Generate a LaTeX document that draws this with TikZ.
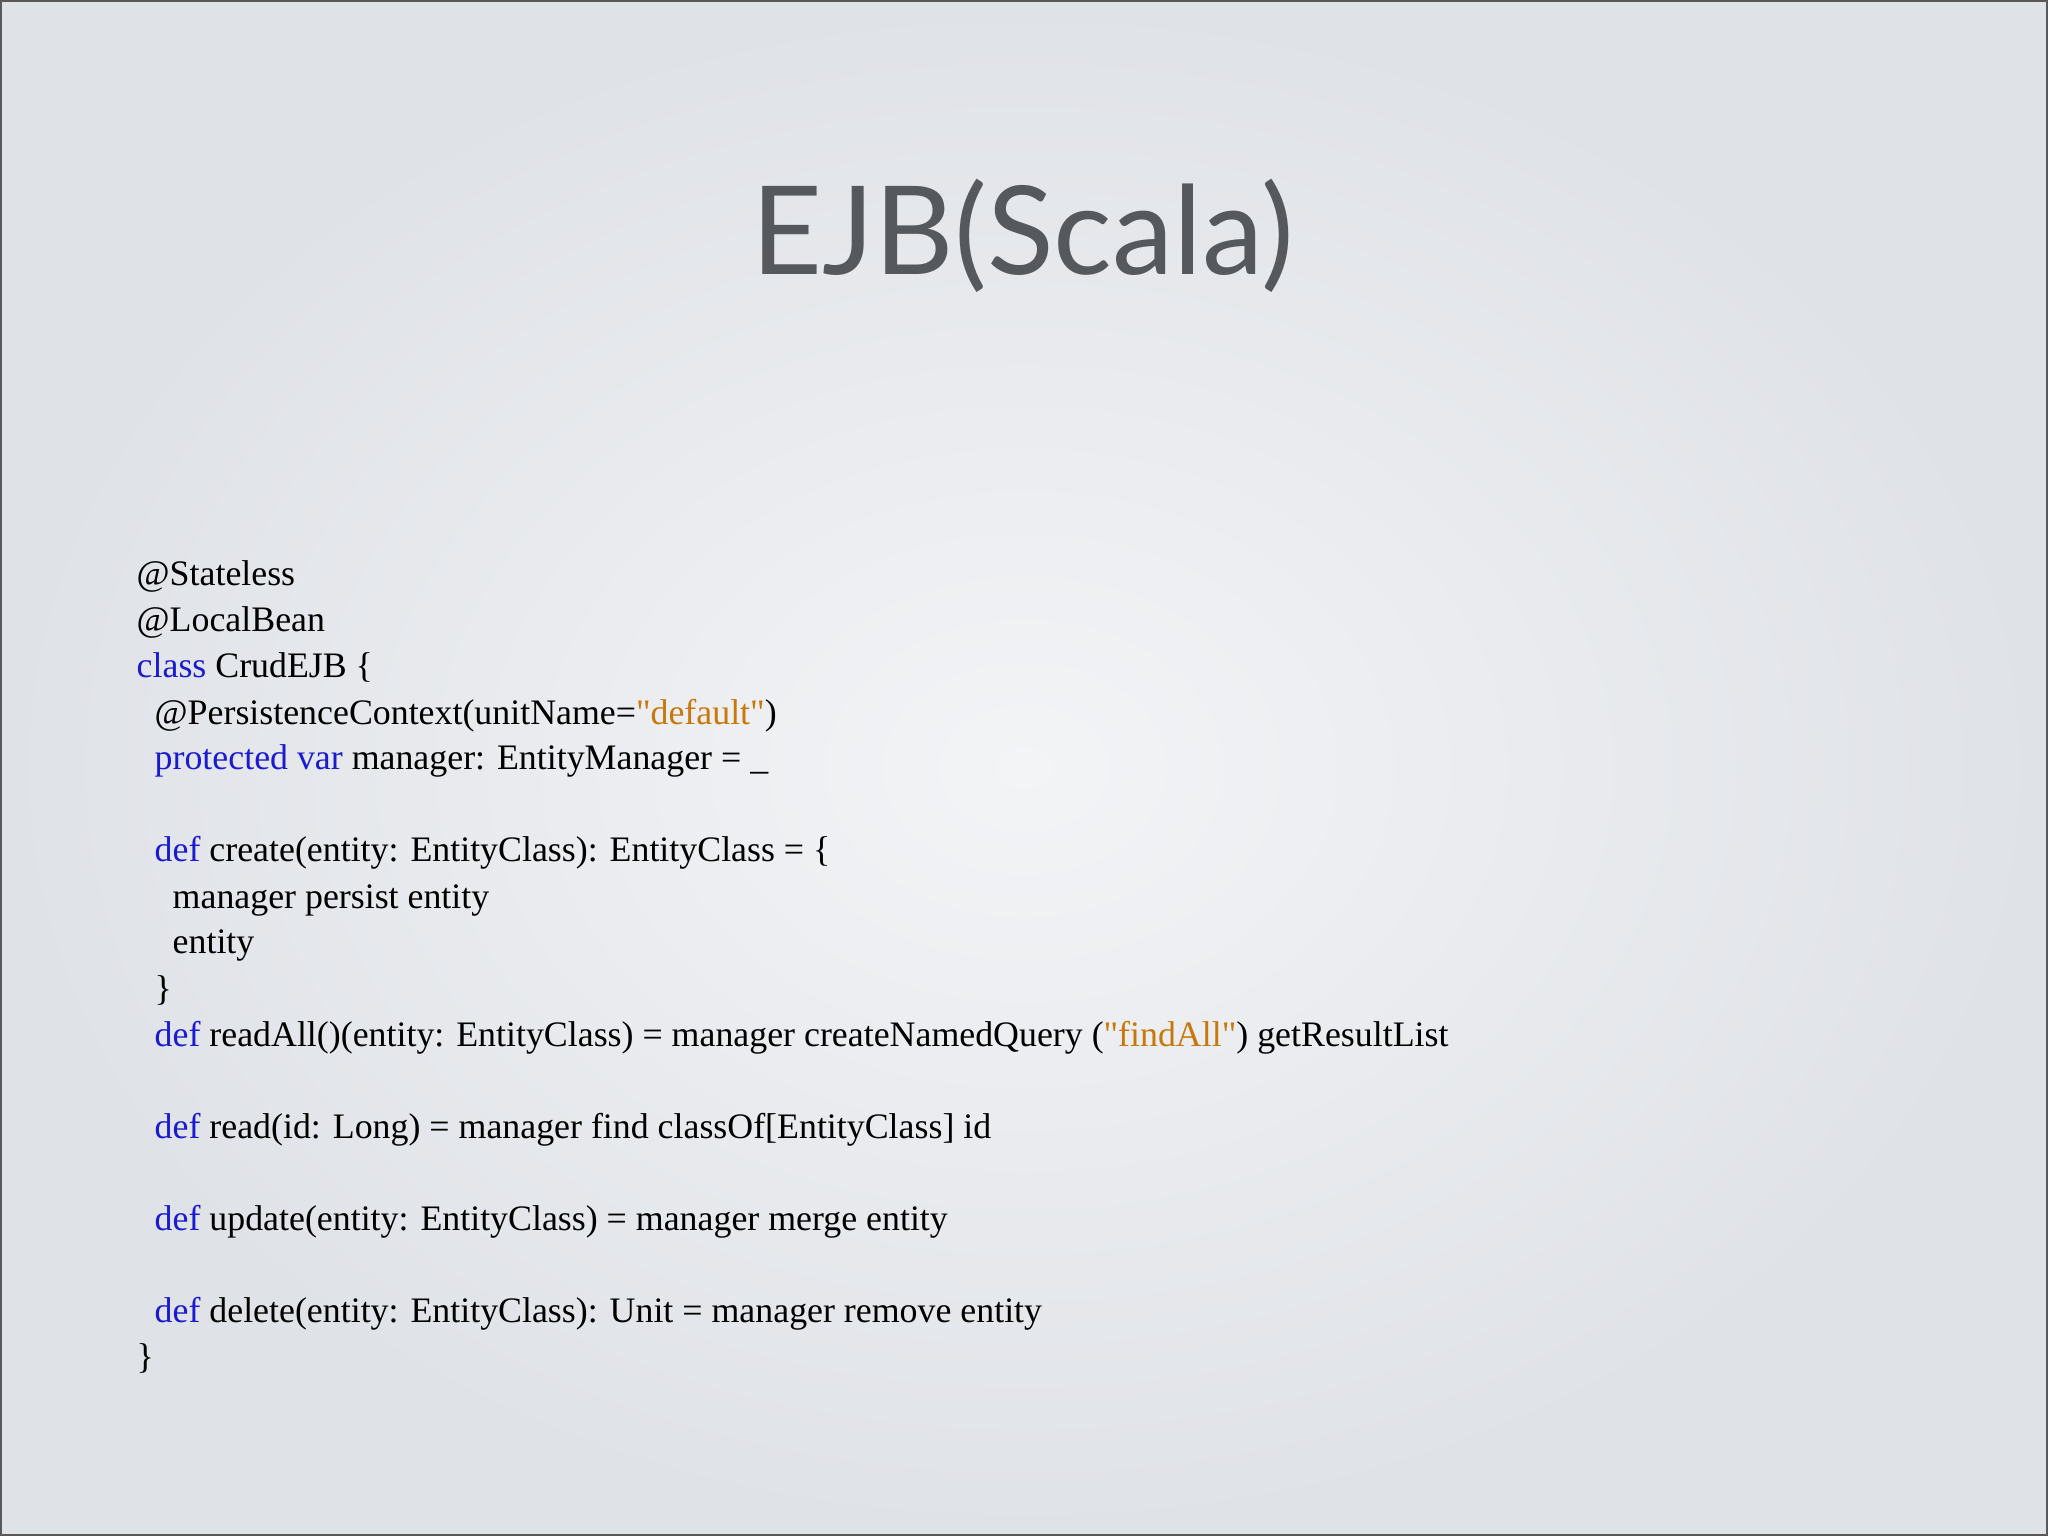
\documentclass[tikz,border=0pt]{standalone}
\usepackage{fontspec}
\setmainfont{Liberation Serif}[Ligatures=TeXOff]
\newfontfamily\titlefont{Lato}
\definecolor{kw}{HTML}{1A1AD0}
\definecolor{str}{HTML}{C8780A}
\definecolor{ttl}{HTML}{55585C}
\definecolor{bgout}{HTML}{DFE2E7}
\definecolor{bgin}{HTML}{F3F4F6}
\begin{document}
\begin{tikzpicture}[x=1cm,y=1cm,
  code/.style={anchor=base west,inner sep=0pt,font=\fontsize{10.2pt}{12pt}\selectfont,text=black}]
\useasboundingbox (0,0) rectangle (20.48,-15.36);
\shade[inner color=bgin,outer color=bgout] (0,0) rectangle (20.48,-15.36);
\draw[gray!70!black,line width=0.6pt] (0.01,-0.01) rectangle (20.47,-15.35);
\node[font=\titlefont\fontsize{35pt}{40pt}\selectfont,text=ttl] (title) at (10.23,-2.36) {EJB(Scala)};
\newcommand{\K}[1]{\textcolor{kw}{#1}}
\newcommand{\St}[1]{\textcolor{str}{"#1"}}
\node[code] (l0) at (1.36,-5.86) {@Stateless};
\node[code] (l1) at (1.36,-6.32) {@LocalBean};
\node[code] (l2) at (1.36,-6.78) {\K{class} CrudEJB \{};
\node[code] (l3) at (1.54,-7.24) {@PersistenceContext(unitName=\St{default})};
\node[code] (l4) at (1.54,-7.70) {\K{protected var} manager: EntityManager = \_};
\node[code] (l6) at (1.54,-8.62) {\K{def} create(entity: EntityClass): EntityClass = \{};
\node[code] (l7) at (1.72,-9.08) {manager persist entity};
\node[code] (l8) at (1.72,-9.54) {entity};
\node[code] (l9) at (1.54,-10.00) {\}};
\node[code] (l10) at (1.54,-10.46) {\K{def} readAll()(entity: EntityClass) = manager createNamedQuery (\St{findAll}) getResultList};
\node[code] (l12) at (1.54,-11.38) {\K{def} read(id: Long) = manager find classOf[EntityClass] id};
\node[code] (l14) at (1.54,-12.30) {\K{def} update(entity: EntityClass) = manager merge entity};
\node[code] (l16) at (1.54,-13.22) {\K{def} delete(entity: EntityClass): Unit = manager remove entity};
\node[code] (l17) at (1.36,-13.68) {\}};
\end{tikzpicture}
\end{document}
